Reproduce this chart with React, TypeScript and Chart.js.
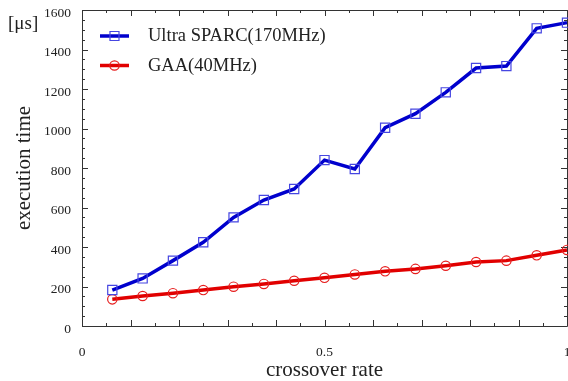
import React, { useEffect, useRef } from "react";
import { Chart, registerables } from "chart.js";

Chart.register(...registerables);

const crossoverRates = [
  0.0625, 0.125, 0.1875, 0.25, 0.3125, 0.375, 0.4375, 0.5,
  0.5625, 0.625, 0.6875, 0.75, 0.8125, 0.875, 0.9375, 1.0,
];
const ultraSparc = [
  182, 241, 331, 424, 550, 638, 694, 840,
  795, 1004, 1075, 1183, 1306, 1316, 1507, 1536,
];
const gaa = [
  135, 152, 166, 182, 199, 213, 229, 244,
  261, 277, 289, 305, 324, 331, 358, 385,
];
const seriesNames = ["Ultra SPARC(170MHz)", "GAA(40MHz)"];
const xTickLabels = [0, 0.5, 1];
const yTickLabels = [0, 200, 400, 600, 800, 1000, 1200, 1400, 1600];
const xMinorStep = 0.05;
const xMajorStep = 0.1;
const yMinorStep = 50;
const yMajorStep = 200;

const FONT = "'Liberation Serif', 'Times New Roman', serif";
const TEXT = "#222";
const FRAME = "#333";

const framePlugin = {
  id: "frameTicks",
  beforeDatasetsDraw(chart: any) {
    const { ctx, chartArea } = chart;
    const { left, right, top, bottom } = chartArea;
    const xs = chart.scales.x;
    const ys = chart.scales.y;
    ctx.save();
    ctx.strokeStyle = FRAME;
    ctx.lineWidth = 1;
    ctx.beginPath();
    ctx.rect(Math.round(left) + 0.5, Math.round(top) + 0.5, Math.round(right - left), Math.round(bottom - top));
    ctx.stroke();
    ctx.beginPath();
    const nx = Math.round((xs.max - xs.min) / xMinorStep);
    for (let i = 0; i <= nx; i++) {
      const v = xs.min + i * xMinorStep;
      const major = Math.abs(v / xMajorStep - Math.round(v / xMajorStep)) < 1e-6;
      const len = major ? 6 : 3;
      const px = Math.round(xs.getPixelForValue(v)) + 0.5;
      ctx.moveTo(px, bottom);
      ctx.lineTo(px, bottom - len);
      ctx.moveTo(px, top);
      ctx.lineTo(px, top + len);
    }
    const ny = Math.round((ys.max - ys.min) / yMinorStep);
    for (let i = 0; i <= ny; i++) {
      const v = ys.min + i * yMinorStep;
      const major = v % yMajorStep === 0;
      const len = major ? 6 : 3;
      const py = Math.round(ys.getPixelForValue(v)) + 0.5;
      ctx.moveTo(left, py);
      ctx.lineTo(left + len, py);
      ctx.moveTo(right, py);
      ctx.lineTo(right - len, py);
    }
    ctx.stroke();
    ctx.restore();
  },
  afterDraw(chart: any) {
    const { ctx } = chart;
    ctx.save();
    // unit label
    ctx.fillStyle = TEXT;
    ctx.font = `19px ${FONT}`;
    ctx.textBaseline = "middle";
    ctx.textAlign = "left";
    ctx.fillText("[\u03bcs]", 8, 24);
    // legend
    chart.data.datasets.forEach((ds: any, i: number) => {
      const y = 36 + i * 29.5;
      ctx.strokeStyle = ds.borderColor;
      ctx.lineWidth = 3.5;
      ctx.beginPath();
      ctx.moveTo(100, y);
      ctx.lineTo(129, y);
      ctx.stroke();
      ctx.strokeStyle = ds.pointBorderColor;
      ctx.lineWidth = 1.2;
      ctx.beginPath();
      if (ds.pointStyle === "rect") {
        ctx.rect(110, y - 4.5, 9, 9);
      } else {
        ctx.arc(114.5, y, 4.7, 0, Math.PI * 2);
      }
      ctx.stroke();
      ctx.fillStyle = TEXT;
      ctx.font = `18.5px ${FONT}`;
      ctx.textBaseline = "middle";
      ctx.fillText(ds.label, 148, y + 0.5);
    });
    ctx.restore();
  },
};

export default function App() {
  const ref = useRef<HTMLCanvasElement | null>(null);
  useEffect(() => {
    document.documentElement.style.overflow = "hidden";
    document.body.style.overflow = "hidden";
    const canvas = ref.current!;
    const chart = new Chart(canvas, {
      type: "line",
      data: {
        datasets: [
          {
            label: seriesNames[0],
            data: crossoverRates.map((x, i) => ({ x, y: ultraSparc[i] })),
            borderColor: "rgb(0,0,205)",
            borderWidth: 3.5,
            pointStyle: "rect",
            pointRadius: 6.5,
            pointBorderWidth: 1.2,
            pointBorderColor: "rgb(70,70,225)",
            pointBackgroundColor: "rgba(0,0,0,0)",
            fill: false,
            tension: 0,
            clip: false as any,
          } as any,
          {
            label: seriesNames[1],
            data: crossoverRates.map((x, i) => ({ x, y: gaa[i] })),
            borderColor: "rgb(225,0,0)",
            borderWidth: 3.5,
            pointStyle: "circle",
            pointRadius: 4.7,
            pointBorderWidth: 1.2,
            pointBorderColor: "rgb(230,30,30)",
            pointBackgroundColor: "rgba(0,0,0,0)",
            fill: false,
            tension: 0,
            clip: false as any,
          } as any,
        ],
      },
      options: {
        animation: false,
        responsive: false,
        maintainAspectRatio: false,
        layout: { autoPadding: false, padding: { top: 10, right: 1, left: 0, bottom: 0 } },
        plugins: {
          legend: { display: false },
          tooltip: { enabled: false },
        },
        scales: {
          x: {
            type: "linear",
            min: 0,
            max: 1,
            grid: { display: false, drawTicks: false },
            border: { display: false },
            afterBuildTicks: (s: any) => {
              s.ticks = xTickLabels.map((v) => ({ value: v }));
            },
            ticks: {
              padding: 18,
              maxRotation: 0,
              color: TEXT,
              font: { family: FONT, size: 13.5 },
              callback: (v: any) => String(v),
            },
            title: {
              display: true,
              text: "crossover rate",
              color: TEXT,
              font: { family: FONT, size: 21, lineHeight: 1 },
              padding: { top: 0, bottom: 0 },
            },
            afterFit: (s: any) => {
              s.height = 55;
              s.paddingLeft = 0;
              s.paddingRight = 0;
            },
          },
          y: {
            type: "linear",
            min: 0,
            max: 1600,
            grid: { display: false, drawTicks: false },
            border: { display: false },
            afterBuildTicks: (s: any) => {
              s.ticks = yTickLabels.map((v) => ({ value: v }));
            },
            ticks: {
              padding: 11,
              labelOffset: 3,
              color: TEXT,
              font: { family: FONT, size: 13.5 },
              callback: (v: any) => String(v),
            },
            title: {
              display: true,
              text: "execution time",
              color: TEXT,
              font: { family: FONT, size: 21, lineHeight: 1 },
              padding: { top: 13.5, bottom: 0 },
            },
            afterFit: (s: any) => {
              s.width = 82;
              s.paddingTop = 0;
              s.paddingBottom = 0;
            },
          },
        },
      },
      plugins: [framePlugin],
    } as any);
    return () => chart.destroy();
  }, []);
  return (
    <div style={{ position: "fixed", left: 0, top: 0, width: 568, height: 381, background: "#fff" }}>
      <canvas ref={ref} width={568} height={381} style={{ width: "568px", height: "381px", display: "block" }} />
    </div>
  );
}
